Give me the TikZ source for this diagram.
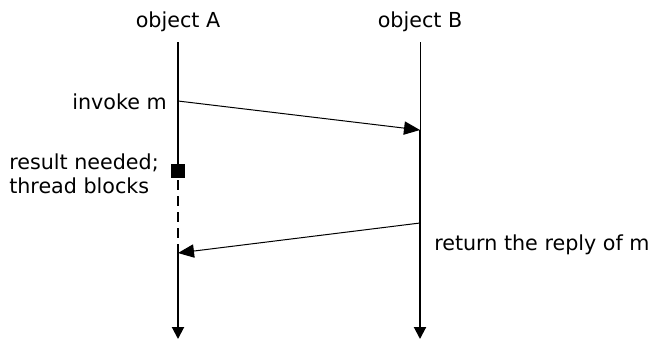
\documentclass[tikz,border=0pt]{standalone}
\usepackage{fontspec}
\setmainfont{DejaVu Sans}
\usetikzlibrary{arrows.meta}
\begin{document}
\begin{tikzpicture}[x=0.75pt,y=-0.75pt,
  lbl/.style={inner sep=0pt, font=\fontsize{15.5}{18}\selectfont},
  life/.style={line width=1.5pt},
  thinlife/.style={line width=0.75pt},
  msg/.style={line width=0.75pt,-{Triangle[length=12pt,width=10pt]}},
  endarrow/.style={-{Triangle[length=9pt,width=9pt]}},
  blockbox/.style={fill=black,draw=none,minimum size=10.5pt,inner sep=0pt}]
\useasboundingbox (0,0) rectangle (656,340);
% heads
\node[lbl] (objA) at (178,22) {object A};
\node[lbl] (objB) at (420,22) {object B};
% key points
\coordinate (Atop) at (178,42);
\coordinate (Ainv) at (178,101);
\node[blockbox] (Asq) at (178,171) {};
\coordinate (Aret) at (178,253);
\coordinate (Abot) at (178,339);
\coordinate (Btop) at (420,42);
\coordinate (Bact) at (420,130);
\coordinate (Bret) at (420,223);
\coordinate (Bbot) at (420,339);
% lifelines
\draw[life] (Atop) -- (Asq.north);
\draw[life,dash pattern=on 7.5pt off 4.5pt] (Asq.south) ++(0,2) -- (Aret);
\draw[life,endarrow] (Aret) -- (Abot);
\draw[thinlife] (Btop) -- (Bact);
\draw[life,endarrow] (Bact) -- (Bbot);
% messages
\draw[msg] (Ainv) -- (Bact);
\draw[msg] (Bret) -- (Aret);
% labels
\node[lbl,anchor=east] (linv) at (167,102) {invoke m};
\node[lbl,anchor=west,align=left] (lres) at (9,174) {result needed;\\thread blocks};
\node[lbl,anchor=west] (lret) at (434,245) {return the reply of m};
\end{tikzpicture}
\end{document}
